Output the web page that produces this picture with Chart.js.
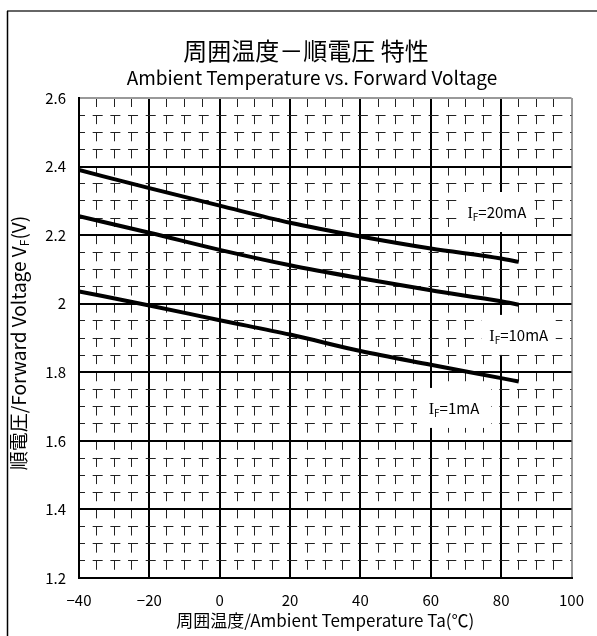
<!DOCTYPE html>
<html>
<head>
<meta charset="utf-8">
<script src="https://cdn.jsdelivr.net/npm/chart.js@4.4.0/dist/chart.umd.min.js"></script>
<style>
html, body { margin: 0; padding: 0; background: #fff; }
#wrap { width: 597px; height: 636px; }
</style>
</head>
<body>
<div id="wrap"><canvas id="c"></canvas></div>
<script>
// Ta (°C) and VF (V)
const temps  = [-40, -20, 0, 20, 40, 60, 80, 85];
const vf20mA = [2.390, 2.337, 2.286, 2.236, 2.196, 2.161, 2.132, 2.122];
const vf10mA = [2.255, 2.207, 2.157, 2.112, 2.074, 2.039, 2.007, 1.997];
const vf1mA  = [2.036, 1.995, 1.952, 1.910, 1.862, 1.822, 1.783, 1.773];
const currents = ['20mA', '10mA', '1mA'];
const xTickLabels = ['\u221240', '\u221220', '0', '20', '40', '60', '80', '100'];
const yTickLabels = ['1.2', '1.4', '1.6', '1.8', '2', '2.2', '2.4', '2.6'];

const JP = '"Noto Sans CJK JP", sans-serif';

function pts(ys) {
    return temps.map((t, i) => ({x: t, y: ys[i]}));
}

// where the "IF=..." notes sit, in data units
const notes = [
    {text: '=20mA', x: 78.8, y: 2.2675},
    {text: '=10mA', x: 85.0, y: 1.909},
    {text: '=1mA',  x: 66.6, y: 1.696},
];

const decor = {
    id: 'decor',
    beforeDraw(chart) {
        const c = chart.ctx;
        c.save();
        c.fillStyle = '#fff';
        c.fillRect(0, 0, chart.width, chart.height);
        // outer frame
        c.strokeStyle = '#666';
        c.lineWidth = 2;
        c.beginPath(); c.moveTo(7, 11); c.lineTo(597, 11); c.stroke();
        c.strokeStyle = '#000';
        c.lineWidth = 1.5;
        c.beginPath(); c.moveTo(7.5, 11); c.lineTo(7.5, 636); c.stroke();

        c.fillStyle = '#000';
        c.textAlign = 'center';
        c.textBaseline = 'middle';
        c.font = '24px ' + JP;
        c.fillText('周囲温度－順電圧 特性', 306, 51);
        c.font = '19px ' + JP;
        c.fillText('Ambient Temperature vs. Forward Voltage', 312, 78);

        // y axis title, with subscript F
        c.translate(19, 343);
        c.rotate(-Math.PI / 2);
        const a = '順電圧/Forward Voltage V', b = 'F', d = '(V)';
        c.font = '19px ' + JP;
        const wa = c.measureText(a).width, wd = c.measureText(d).width;
        c.font = '12px ' + JP;
        const wb = c.measureText(b).width;
        let x0 = -(wa + wb + wd) / 2;
        c.textAlign = 'left';
        c.font = '19px ' + JP;
        c.fillText(a, x0, 0);
        c.font = '12px ' + JP;
        c.fillText(b, x0 + wa, 5);
        c.font = '19px ' + JP;
        c.fillText(d, x0 + wa + wb, 0);
        c.restore();
    },
    beforeDatasetsDraw(chart) {
        const c = chart.ctx;
        const sx = chart.scales.x, sy = chart.scales.y;
        c.save();
        c.textBaseline = 'alphabetic';
        c.textAlign = 'left';
        for (const n of notes) {
            const px = sx.getPixelForValue(n.x);
            const py = sy.getPixelForValue(n.y);
            c.fillStyle = '#fff';
            c.fillRect(px - 37, py - 20, 74, 40);
            c.font = '16px "Liberation Serif", serif';
            const wi = c.measureText('I').width;
            c.font = '10px ' + JP;
            const wf = c.measureText('F').width;
            c.font = '15px ' + JP;
            const wt = c.measureText(n.text).width;
            let x0 = px - (wi + wf + wt) / 2;
            const base = py + 6;
            c.fillStyle = '#000';
            c.font = '16px "Liberation Serif", serif';
            c.fillText('I', x0, base);
            c.font = '10px ' + JP;
            c.fillText('F', x0 + wi, base + 3);
            c.font = '15px ' + JP;
            c.fillText(n.text, x0 + wi + wf, base);
        }
        c.restore();
    }
};

new Chart(document.getElementById('c'), {
    type: 'line',
    data: {
        datasets: [vf20mA, vf10mA, vf1mA].map((ys, i) => ({
            label: 'IF=' + currents[i],
            data: pts(ys),
            borderColor: '#000',
            borderWidth: 4,
            pointRadius: 0,
            tension: 0.4,
            cubicInterpolationMode: 'monotone',
            fill: false,
        })),
    },
    options: {
        responsive: true,
        maintainAspectRatio: false,
        animation: false,
        layout: { padding: { top: 98, right: 23, left: 0, bottom: 0 } },
        plugins: {
            legend: { display: false },
            tooltip: { enabled: false },
        },
        scales: {
            x: {
                type: 'linear',
                min: -40, max: 100,
                afterFit: s => { s.height = 58; },
                ticks: {
                    stepSize: 5,
                    autoSkip: false,
                    maxRotation: 0,
                    padding: 13,
                    color: '#000',
                    font: { family: JP, size: 15 },
                    callback: v => (v % 20 === 0 ? xTickLabels[(v + 40) / 20] : ''),
                },
                grid: {
                    drawTicks: false,
                    color: ctx => ctx.tick.value === 100 ? '#999' : (ctx.tick.value % 20 === 0 ? '#000' : '#222'),
                    lineWidth: ctx => ctx.tick.value % 20 === 0 ? 2 : 1,
                },
                border: {
                    color: '#000', width: 2,
                    dash: ctx => (ctx.tick && ctx.tick.value % 20 !== 0) ? [9, 8.14] : [],
                    dashOffset: 0,
                },
                title: {
                    display: true,
                    text: '周囲温度/Ambient Temperature Ta(℃)',
                    color: '#000',
                    font: { family: JP, size: 17 },
                    padding: { top: 0, bottom: 5 },
                },
            },
            y: {
                type: 'linear',
                min: 1.2, max: 2.6,
                afterFit: s => { s.width = 79; },
                ticks: {
                    stepSize: 0.05,
                    autoSkip: false,
                    padding: 13,
                    color: '#000',
                    font: { family: JP, size: 15 },
                    callback: v => {
                        const k = Math.round(v * 100);
                        return k % 20 === 0 ? yTickLabels[(k - 120) / 20] : '';
                    },
                },
                grid: {
                    drawTicks: false,
                    color: ctx => Math.round(ctx.tick.value * 100) === 260 ? '#999' : (Math.round(ctx.tick.value * 100) % 20 === 0 ? '#000' : '#222'),
                    lineWidth: ctx => Math.round(ctx.tick.value * 100) % 20 === 0 ? 2 : 1,
                },
                border: {
                    color: '#000', width: 2,
                    dash: ctx => (ctx.tick && Math.round(ctx.tick.value * 100) % 20 !== 0) ? [10, 7.68] : [],
                    dashOffset: 5,
                },
            },
        },
    },
    plugins: [decor],
});
</script>
</body>
</html>
